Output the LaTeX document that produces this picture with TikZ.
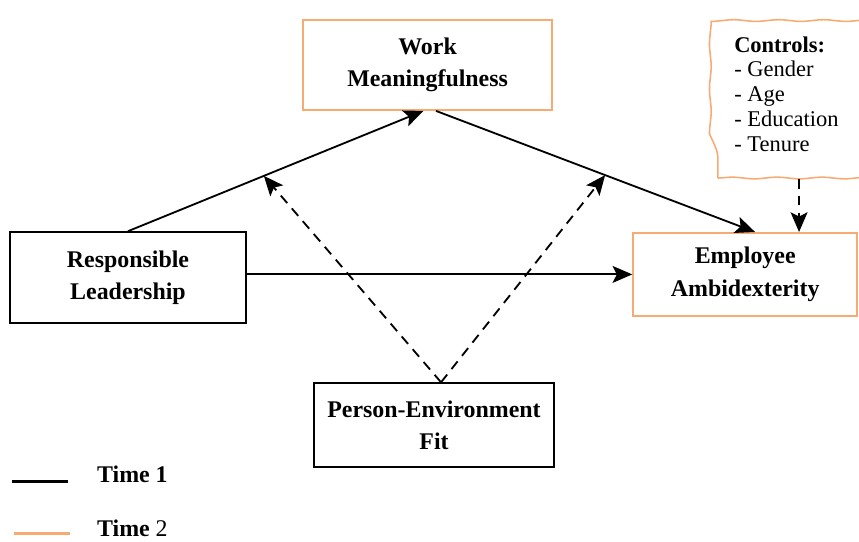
\documentclass[tikz,border=0pt]{standalone}
\usepackage{fontspec}
\setmainfont{Liberation Serif}
\usetikzlibrary{arrows.meta,decorations.pathmorphing}
\definecolor{timetwo}{RGB}{248,170,115}

\tikzstyle{block}=[rectangle,
    line width=1.3pt,
    draw=black,
    align=center,
    font=\fontsize{17}{23}\selectfont\bfseries]
\tikzstyle{later}=[block, draw=timetwo]
\tikzstyle{wavy}=[rectangle,
    line width=1.1pt,
    draw=timetwo,
    align=left,
    font=\fontsize{16}{17.6}\selectfont,
    decorate,
    decoration={snake, amplitude=0.6pt, segment length=32pt}]
\tikzstyle{link}=[line width=1.3pt, -{Stealth[length=14pt,width=12pt,inset=3pt]}]
\tikzstyle{hint}=[link, dash pattern=on 7pt off 5pt]
\tikzstyle{legend}=[font=\fontsize{17}{20}\selectfont]

\begin{document}
\begin{tikzpicture}
    \useasboundingbox (0,0) rectangle (21.475,-13.525);
    \node (work) [later, minimum width=6.225cm, minimum height=2.25cm] at (10.69,-1.625) {Work\\Meaningfulness};
    \node (controls) [wavy, minimum width=3.425cm, minimum height=4.2cm] at (19.66,-2.35)
        {\textbf{Controls:}\\-~Gender\\-~Age\\-~Education\\-~Tenure};
    \node (resp) [block, minimum width=5.9cm, minimum height=2.275cm] at (3.2,-6.94) {Responsible\\Leadership};
    \node (ambi) [later, minimum width=5.6cm, minimum height=2.075cm] at (18.63,-6.86) {Employee\\Ambidexterity};
    \node (fit) [block, minimum width=6cm, minimum height=2.1cm] at (10.85,-10.63) {Person-Environment\\Fit};

    \draw [link] (resp.north) -- coordinate[pos=0.46] (m1) ([xshift=-3pt]work.south);
    \draw [link] ([xshift=6pt]work.south) -- coordinate[pos=0.53] (m2) ([xshift=7pt]ambi.north);
    \draw [link] (resp.east |- ambi.west) -- (ambi.west);
    \draw [hint] ([xshift=5pt]fit.north) -- (m1);
    \draw [hint] ([xshift=5pt]fit.north) -- (m2);
    \draw [hint] ([xshift=9pt]controls.south) -- ([xshift=9pt]controls.south |- ambi.north);

    \node (time1) [legend] at (3.31,-11.85) {\textbf{Time 1}};
    \node (time2) [legend] at (3.31,-13.2) {\textbf{Time} 2};
    \coordinate (t1a) at (0.3,-12.03);
    \coordinate (t1b) at (1.7,-12.03);
    \coordinate (t2a) at (0.35,-13.33);
    \coordinate (t2b) at (1.75,-13.33);
    \draw [line width=2.2pt] (t1a) -- (t1b);
    \draw [line width=2.2pt, draw=timetwo] (t2a) -- (t2b);
\end{tikzpicture}
\end{document}
